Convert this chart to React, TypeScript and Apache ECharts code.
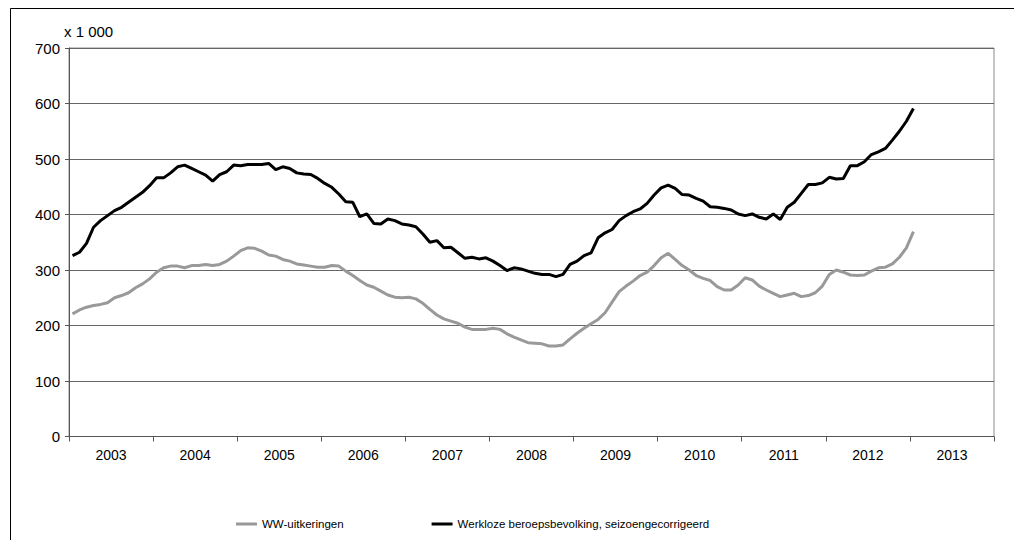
import React, { useEffect, useRef } from "react";
import * as echarts from "echarts";

const years = ["2003", "2004", "2005", "2006", "2007", "2008", "2009", "2010", "2011", "2012", "2013"];
const yTicks = { min: 0, max: 700, interval: 100 };
const unitLabel = "x 1 000";
const seriesNames = ["WW-uitkeringen", "Werkloze beroepsbevolking, seizoengecorrigeerd"];

// Monthly values, Jan 2003 - Jan 2013 (x 1 000)
const wwUitkeringen = [
  221, 228, 233, 236, 238, 241, 250, 254, 259, 268, 275, 284,
  296, 304, 307, 307, 304, 308, 308, 310, 308, 310, 316, 325,
  335, 340, 339, 334, 327, 325, 319, 316, 311, 309, 307, 305,
  305, 308, 307, 298, 290, 281, 273, 269, 262, 255, 251, 250,
  251, 248, 240, 229, 219, 212, 208, 204, 197, 193, 193, 193,
  195, 193, 185, 179, 174, 169, 168, 167, 163, 163, 165, 176,
  186, 195, 203, 211, 223, 242, 261, 271, 280, 290, 296, 308,
  322, 330, 319, 308, 300, 290, 285, 281, 270, 264, 264, 273,
  286, 282, 271, 264, 258, 252, 255, 258, 252, 254, 259, 271,
  292, 300, 296, 291, 290, 291, 298, 304, 305, 311, 323, 340,
  369,
];

const werkloos = [
  326, 332, 348, 377, 389, 398, 407, 413, 422, 431, 440, 452,
  466, 466, 475, 486, 489, 483, 477, 471, 460, 472, 477, 489,
  488, 490, 490, 490, 492, 481, 486, 483, 475, 473, 472, 465,
  456, 449, 437, 423, 422, 396, 401, 384, 383, 392, 389, 383,
  381, 378, 365, 350, 353, 340, 341, 331, 321, 323, 320, 322,
  316, 308, 299, 304, 302, 298, 294, 292, 292, 288, 292, 310,
  316, 326, 331, 358, 367, 373, 389, 398, 405, 410, 420, 435,
  448, 453, 447, 436, 435, 429, 424, 414, 413, 411, 408, 401,
  398, 401, 395, 392, 401, 391, 413, 422, 438, 454, 454, 457,
  467, 464, 465, 488, 488, 495, 508, 513, 519, 534, 550, 568,
  591,
];

const months: string[] = [];
years.forEach((y) => {
  for (let m = 1; m <= 12; m++) months.push(`${y}-${m < 10 ? "0" + m : m}`);
});

export default function App() {
  const ref = useRef<HTMLDivElement>(null);
  useEffect(() => {
    document.body.style.margin = "0";
    if (!ref.current) return;
    const chart = echarts.init(ref.current, null, { renderer: "svg" });
    const font = "Liberation Sans, Arial, sans-serif";
    chart.setOption({
      animation: false,
      backgroundColor: "#ffffff",
      textStyle: { fontFamily: font },
      grid: {
        left: 69,
        right: 20,
        top: 48,
        bottom: 103.5,
        show: true,
        borderColor: "#8c8c8c",
        borderWidth: 1,
      },
      xAxis: [
        {
          type: "category",
          data: months,
          boundaryGap: true,
          show: false,
        },
        {
          type: "category",
          data: years,
          position: "bottom",
          boundaryGap: true,
          axisLine: { show: true, lineStyle: { color: "#555555", width: 1 } },
          axisTick: { show: true, length: 5, inside: false, lineStyle: { color: "#555555" } },
          axisLabel: { fontSize: 14, color: "#000000", margin: 11, fontFamily: font },
          splitLine: { show: false },
        },
      ],
      yAxis: {
        type: "value",
        min: yTicks.min,
        max: yTicks.max,
        interval: yTicks.interval,
        axisLine: { show: true, lineStyle: { color: "#555555", width: 1 } },
        axisTick: { show: true, length: 4, lineStyle: { color: "#555555" } },
        axisLabel: { fontSize: 15, color: "#000000", margin: 9, fontFamily: font },
        splitLine: { show: true, lineStyle: { color: "#666666", width: 1 } },
      },
      legend: {
        left: 231,
        top: 513,
        itemGap: 88,
        itemWidth: 21,
        itemHeight: 3,
        icon: "rect",
        textStyle: { fontSize: 11.5, color: "#000000", fontFamily: font },
        data: seriesNames,
      },
      series: [
        {
          name: seriesNames[0],
          type: "line",
          xAxisIndex: 0,
          data: wwUitkeringen,
          symbol: "none",
          lineStyle: { color: "#999999", width: 3 },
          itemStyle: { color: "#999999" },
        },
        {
          name: seriesNames[1],
          type: "line",
          xAxisIndex: 0,
          data: werkloos,
          symbol: "none",
          lineStyle: { color: "#000000", width: 3 },
          itemStyle: { color: "#000000" },
        },
      ],
      graphic: [
        {
          type: "rect",
          shape: { x: 10.5, y: 8.5, width: 1100, height: 600 },
          style: { fill: "none", stroke: "#000000", lineWidth: 1 },
          silent: true,
        },
        {
          type: "text",
          left: 64,
          top: 24,
          style: { text: unitLabel, fontSize: 15, fill: "#000000", fontFamily: font },
        },
      ],
    });
    return () => chart.dispose();
  }, []);
  return <div ref={ref} style={{ width: 1014, height: 540 }} />;
}
